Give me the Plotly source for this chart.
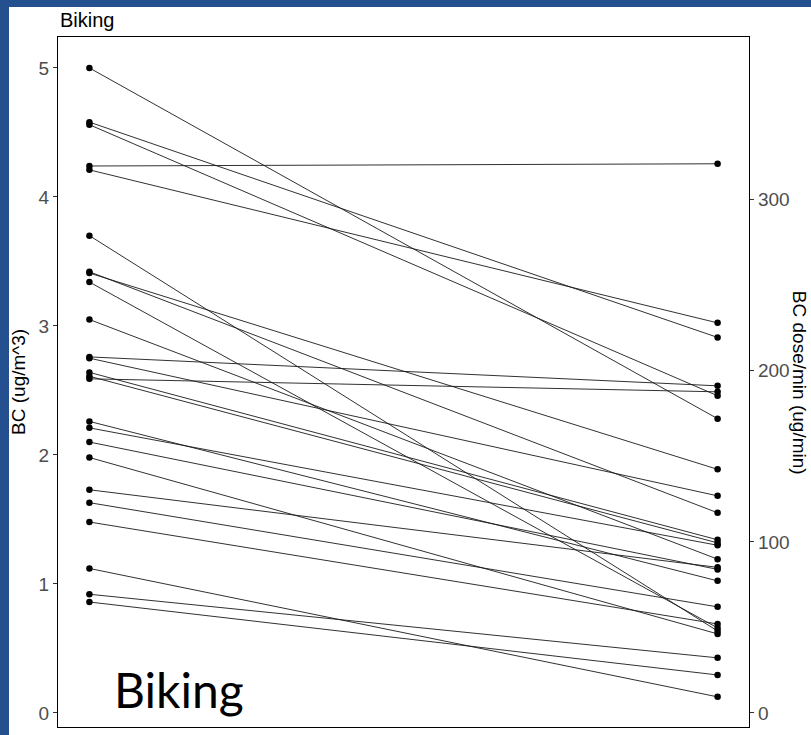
import plotly.graph_objects as go

# Time points (left = BC concentration, right = BC dose per minute)
x_positions = [0, 1]

# Left-axis values: BC (ug/m^3)
left_bc = [5.00, 4.58, 4.56, 4.24, 4.21, 3.70, 3.42, 3.41, 3.34, 3.05,
           2.76, 2.75, 2.64, 2.61, 2.59, 2.26, 2.21, 2.10, 1.98, 1.73,
           1.63, 1.48, 1.12, 0.92, 0.86]

# Right-axis values: BC dose/min (ug/min), paired with left_bc
right_dose = [172, 219.5, 185.4, 321, 228, 47.9, 117.0, 142.4, 49.7, 89.9,
              191.2, 126.9, 101.2, 99.4, 187.7, 77.2, 98.0, 83.9, 46.2, 85.1,
              62.0, 52.0, 9.4, 32.2, 22.2]

left_ticks = [0, 1, 2, 3, 4, 5]
right_ticks = [0, 100, 200, 300]

# secondary-axis scaling (dose units per BC unit)
DOSE_PER_BC = 75.4
y_range = [-0.109, 5.24]

lx, ly = [], []
for a, d in zip(left_bc, right_dose):
    lx += [x_positions[0], x_positions[1], None]
    ly += [a, d / DOSE_PER_BC, None]

mx, my = [], []
for a, d in zip(left_bc, right_dose):
    mx += [x_positions[0], x_positions[1]]
    my += [a, d / DOSE_PER_BC]

fig = go.Figure()
fig.add_trace(go.Scatter(x=lx, y=ly, mode="lines",
                         line=dict(color="#1a1a1a", width=0.9),
                         hoverinfo="skip", showlegend=False))
fig.add_trace(go.Scatter(x=mx, y=my, mode="markers",
                         marker=dict(color="black", size=6.5),
                         showlegend=False))
# invisible trace to activate secondary axis
fig.add_trace(go.Scatter(x=[0], y=[0], yaxis="y2", mode="markers",
                         marker=dict(opacity=0), hoverinfo="skip",
                         showlegend=False))

blue = "#24508f"
fig.update_layout(
    width=811, height=735,
    margin=dict(l=58, r=62, t=37, b=8),
    paper_bgcolor=blue,
    plot_bgcolor="white",
    font=dict(family="Liberation Sans, Arial, sans-serif"),
    xaxis=dict(range=[-0.05, 1.05], showgrid=False, zeroline=False,
               showticklabels=False, ticks="", showline=True, mirror=True,
               linecolor="black", linewidth=1.2),
    yaxis=dict(range=y_range, tickvals=left_ticks, showgrid=False, zeroline=False,
               ticks="outside", ticklen=4, tickcolor="#333333", tickwidth=1,
               tickfont=dict(size=19, color="#4d4d4d"),
               showline=True, linecolor="black", linewidth=1.2, mirror=True),
    yaxis2=dict(range=[y_range[0] * DOSE_PER_BC, y_range[1] * DOSE_PER_BC],
                tickvals=right_ticks, overlaying="y", side="right",
                showgrid=False, zeroline=False,
                ticks="outside", ticklen=4, tickcolor="#333333", tickwidth=1,
                tickfont=dict(size=19, color="#4d4d4d"),
                showline=True, linecolor="black", linewidth=1.2),
    shapes=[dict(type="rect", xref="paper", yref="paper",
                 x0=-0.0709, x1=1.2, y0=-0.1, y1=1.0435,
                 fillcolor="white", line=dict(width=0), layer="below")],
    annotations=[
        dict(text="Biking", xref="paper", yref="paper", x=0, y=1.0246,
             xanchor="left", yanchor="middle", showarrow=False,
             font=dict(size=20, color="black")),
        dict(text="BC (ug/m^3)", xref="paper", yref="paper", x=-0.058, y=0.5,
             xanchor="center", yanchor="middle", textangle=-90, showarrow=False,
             font=dict(size=19, color="black")),
        dict(text="BC dose/min (ug/min)", xref="paper", yref="paper", x=1.0725, y=0.4986,
             xanchor="center", yanchor="middle", textangle=90, showarrow=False,
             font=dict(size=19, color="black")),
        dict(text="Biking", xref="paper", yref="paper", x=0.078, y=0.054,
             xanchor="left", yanchor="middle", showarrow=False,
             font=dict(size=48, color="black", family="Lato, Noto Sans, sans-serif")),
    ],
)

fig.write_html("out.html",
               config={"displayModeBar": False},
               post_script="document.body.style.margin='0';"
                           "document.body.style.overflow='hidden';")
